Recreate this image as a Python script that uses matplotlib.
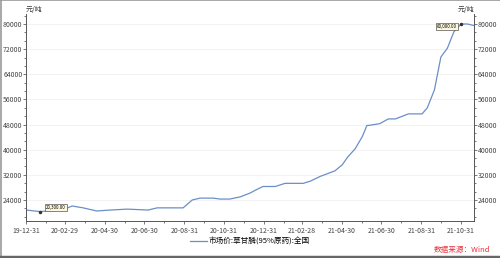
import numpy as np
import pandas as pd
import matplotlib
matplotlib.use("Agg")
import matplotlib.pyplot as plt
import matplotlib.dates as mdates
from matplotlib.ticker import AutoMinorLocator
from matplotlib.lines import Line2D

plt.rcParams['font.family'] = ['Noto Sans CJK SC', 'DejaVu Sans']

# glyphosate (95%) market price, yuan/ton
dates = ["2020-01-01", "2020-01-22", "2020-02-29", "2020-03-11", "2020-03-28",
         "2020-04-18", "2020-05-08", "2020-06-04", "2020-07-06", "2020-07-20",
         "2020-08-29", "2020-09-12", "2020-09-24", "2020-10-14", "2020-10-25",
         "2020-11-09", "2020-11-25", "2020-12-10", "2020-12-21", "2020-12-30",
         "2021-01-18", "2021-02-02", "2021-03-02", "2021-03-13", "2021-03-28",
         "2021-04-20", "2021-05-01", "2021-05-10", "2021-05-21", "2021-06-01",
         "2021-06-08", "2021-06-13", "2021-06-28", "2021-07-11", "2021-07-22",
         "2021-08-11", "2021-09-01", "2021-09-09", "2021-09-20", "2021-09-30",
         "2021-10-10", "2021-10-20", "2021-10-31", "2021-11-10", "2021-11-20"]
prices = [20800, 20300, 21100, 22100, 21500,
          20500, 20800, 21100, 20800, 21500,
          21500, 24000, 24600, 24600, 24300,
          24300, 25000, 26200, 27400, 28300,
          28300, 29300, 29300, 30000, 31500,
          33300, 35200, 37800, 40300, 44200,
          47700, 47800, 48300, 49800, 49800,
          51400, 51400, 53300, 59000, 69500,
          72300, 77500, 80000, 80000, 79500]
legend_label = "市场价:草甘膦(95%原药):全国"
unit = "元/吨"
source = "数据来源：Wind"
low_label, low_date, low_val = "20,300.00", "2020-01-22", 20300
high_label, high_date, high_val = "80,000.00", "2021-10-31", 80000

x = pd.to_datetime(dates)
line_color = "#6a8fc7"

fig = plt.figure(figsize=(5.0, 2.58), dpi=100)
ax = fig.add_axes([0.052, 0.1434, 0.896, 0.8023])
ax.plot(x, prices, color=line_color, lw=0.9)

ax.set_ylim(17318, 83180)
ax.set_xlim(pd.Timestamp("2019-12-31"), pd.Timestamp("2021-11-20"))
ax.set_yticks(np.arange(24000, 80001, 8000))
ax.yaxis.set_minor_locator(AutoMinorLocator(3))
ax.grid(axis='y', color='#f0f0f0', lw=0.6)

xt = pd.to_datetime(["2019-12-31", "2020-02-29", "2020-04-30", "2020-06-30",
                     "2020-08-31", "2020-10-31", "2020-12-31", "2021-02-28",
                     "2021-04-30", "2021-06-30", "2021-08-31", "2021-10-31"])
ax.set_xticks(xt)
ax.set_xticklabels([d.strftime("%y-%m-%d") for d in xt])
ax.xaxis.set_minor_locator(mdates.MonthLocator(bymonthday=-1))

for s in ['left', 'right', 'bottom']:
    ax.spines[s].set_color('#555555')
    ax.spines[s].set_linewidth(0.7)
ax.spines['top'].set_visible(False)
ax.tick_params(which='both', labelsize=5, colors='#444444', width=0.5)
ax.tick_params(which='major', length=2)
ax.tick_params(which='minor', length=1.5)
ax.tick_params(axis='y', which='both', left=True, right=True,
               labelleft=True, labelright=True, pad=0.5)
ax.tick_params(axis='x', pad=2)

ax.text(0, 1.0, unit, transform=ax.transAxes, fontsize=5, ha='left',
        va='bottom', color='#333333')
ax.text(1, 1.0, unit, transform=ax.transAxes, fontsize=5, ha='right',
        va='bottom', color='#333333')

# annotations
bbox = dict(boxstyle='square,pad=0.25', fc='#fdf8dc', ec='#555555', lw=0.5)
ax.plot(pd.Timestamp(low_date), low_val, 'o', ms=1.5, color='#333333')
ax.annotate(low_label, (pd.Timestamp(low_date), low_val), xytext=(4, 3),
            textcoords='offset points', fontsize=3.2, ha='left', va='center',
            bbox=bbox)
ax.plot(pd.Timestamp(high_date), high_val, 'o', ms=1.5, color='#333333')
ax.annotate(high_label, (pd.Timestamp(high_date), high_val), xytext=(-3, -2),
            textcoords='offset points', fontsize=3.2, ha='right', va='center',
            bbox=bbox)

# legend
handle = Line2D([], [], color=line_color, lw=0.9)
fig.legend([handle], [legend_label], loc='center', bbox_to_anchor=(0.5, 0.062),
           frameon=False, fontsize=5.5, handlelength=2.2, handletextpad=0.3)

fig.text(0.98, 0.03, source, color='#e8323c', fontsize=5.5, ha='right',
         va='center', style='italic')

# frame around the image
fig.add_artist(Line2D([0, 1], [0.999, 0.999], color='#999999', lw=1.2,
                      transform=fig.transFigure))
fig.add_artist(Line2D([0.001, 0.001], [0, 1], color='#999999', lw=1.2,
                      transform=fig.transFigure))
fig.add_artist(Line2D([0, 1], [0.004, 0.004], color='#666666', lw=2.5,
                      transform=fig.transFigure))

fig.savefig("out.png", dpi=100)
